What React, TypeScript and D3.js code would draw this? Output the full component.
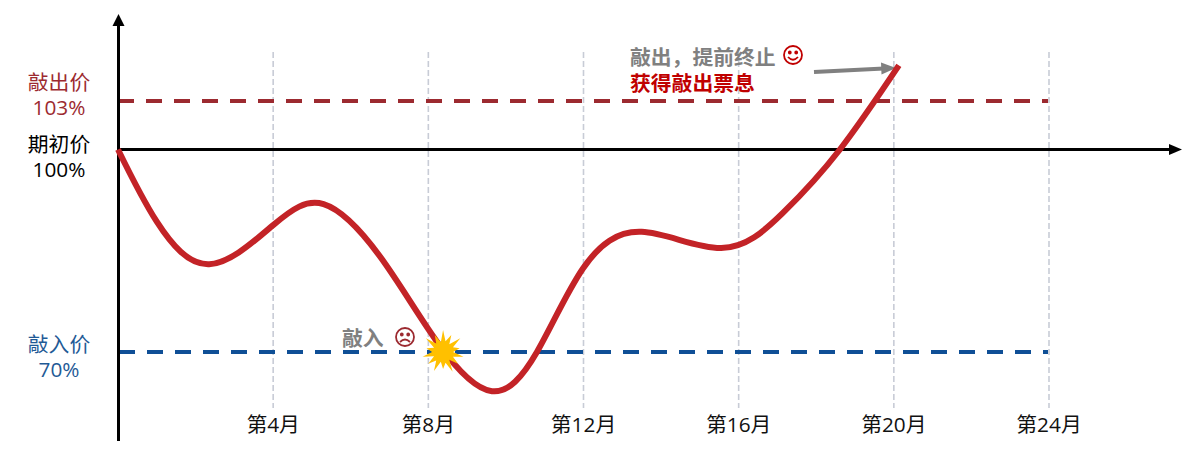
import React from "react";
import * as d3 from "d3";

const months = [0, 1.0, 2.35, 4.0, 5.3, 6.76, 8.25, 9.64, 10.8, 11.99, 13.5, 15.55, 17.14, 18.61, 20.13];
const prices = [100, 89.3, 83.0, 88.8, 91.9, 84.1, 71.3, 64.2, 70, 82.4, 87.8, 85.4, 90.6, 100, 105.2];
const tickMonths = [4, 8, 12, 16, 20, 24];
const tickLabels = ["第4月", "第8月", "第12月", "第16月", "第20月", "第24月"];
const levelValues = [103, 100, 70];
const levelNames = ["敲出价", "期初价", "敲入价"];
const levelPercents = ["103%", "100%", "70%"];
const levelColors = ["#9c2a30", "#000000", "#0f4f96"];
const labelColors = ["#9c2a30", "#000000", "#1f5a96"];
const starRadii = [22, 11, 19, 10, 22, 11, 17, 10, 21, 11, 19, 10, 22, 11, 17, 10, 21, 11, 19, 10, 21, 11, 17, 10, 22, 11, 19, 10];

const FONT = "'Open Sans', 'Noto Sans CJK SC', sans-serif";
const SIZE = 20.8;
const x = d3.scaleLinear().domain([0, 24]).range([118, 1049]);
const y = d3.scaleLinear().domain([70, 100, 103]).range([352, 149.5, 101]);

export default function App() {
  const curvePath = d3
    .line<number>()
    .x((m) => x(m))
    .y((_, i) => y(prices[i]))
    .curve(d3.curveNatural)(months) as string;
  const starPath = d3
    .lineRadial<number>()
    .angle((_, i) => (i / starRadii.length) * 2 * Math.PI)
    .radius((r) => r)
    .curve(d3.curveLinearClosed)(starRadii) as string;

  return (
    <svg
      width={1195}
      height={450}
      style={{ position: "absolute", left: 0, top: 0, display: "block", background: "#fff" }}
      fontFamily={FONT}
    >
      {tickMonths.map((m, i) => (
        <g key={m}>
          <line x1={x(m)} x2={x(m)} y1={52} y2={408} stroke="#c8ccd6" strokeWidth={1.6} strokeDasharray="6 3" />
          <text x={x(m)} y={432} textAnchor="middle" fontSize={SIZE} fill="#111">
            {tickLabels[i]}
          </text>
        </g>
      ))}

      <line x1={118} x2={1048} y1={y(103)} y2={y(103)} stroke={levelColors[0]} strokeWidth={4} strokeDasharray="16 12" />
      <line x1={119} x2={1048} y1={y(70)} y2={y(70)} stroke={levelColors[2]} strokeWidth={4} strokeDasharray="16 12" />

      <line x1={118} x2={1170} y1={y(100)} y2={y(100)} stroke="#000" strokeWidth={3} />
      <polygon points={`1182,${y(100)} 1169,${y(100) - 5.5} 1169,${y(100) + 5.5}`} fill="#000" />
      <line x1={118.5} x2={118.5} y1={24} y2={441} stroke="#000" strokeWidth={3} />
      <polygon points="118.5,14 112.5,26 124.5,26" fill="#000" />

      <line x1={814} y1={72} x2={884} y2={68.6} stroke="#808080" strokeWidth={4} />
      <polygon points="896,68 881,62.5 881.5,74.5" fill="#808080" />

      <path d={curvePath} fill="none" stroke="#c32327" strokeWidth={6} strokeLinecap="butt" />

      <path d={starPath} transform={`translate(${x(8.38)},${y(70)})`} fill="#ffc000" />

      {levelValues.map((v, i) => {
        const base = v === 103 ? 90 : v === 100 ? 152 : 352;
        return (
          <g key={v} textAnchor="middle" fill={labelColors[i]} fontSize={SIZE}>
            <text x={59} y={base}>{levelNames[i]}</text>
            <text x={59} y={base + 25}>{levelPercents[i]}</text>
          </g>
        );
      })}

      <text x={630} y={65} fontSize={SIZE} fontWeight={700} fill="#808080">敲出，提前终止</text>
      <text x={630} y={91} fontSize={SIZE} fontWeight={700} fill="#c00000">获得敲出票息</text>
      <text x={342} y={346} fontSize={SIZE} fontWeight={700} fill="#808080">敲入</text>

      <g transform="translate(793,55)" fill="none" stroke="#c00000" strokeWidth={1.8}>
        <circle r={9} />
        <circle cx={-3.2} cy={-2.5} r={1} fill="#c00000" />
        <circle cx={3.2} cy={-2.5} r={1} fill="#c00000" />
        <path d="M-5 2 Q0 7.5 5 2" />
      </g>
      <g transform="translate(405,337)" fill="none" stroke="#9c2a30" strokeWidth={1.8}>
        <circle r={9} />
        <circle cx={-3.2} cy={-2.5} r={1} fill="#9c2a30" />
        <circle cx={3.2} cy={-2.5} r={1} fill="#9c2a30" />
        <path d="M-5 5 Q0 0 5 5" />
      </g>
    </svg>
  );
}
